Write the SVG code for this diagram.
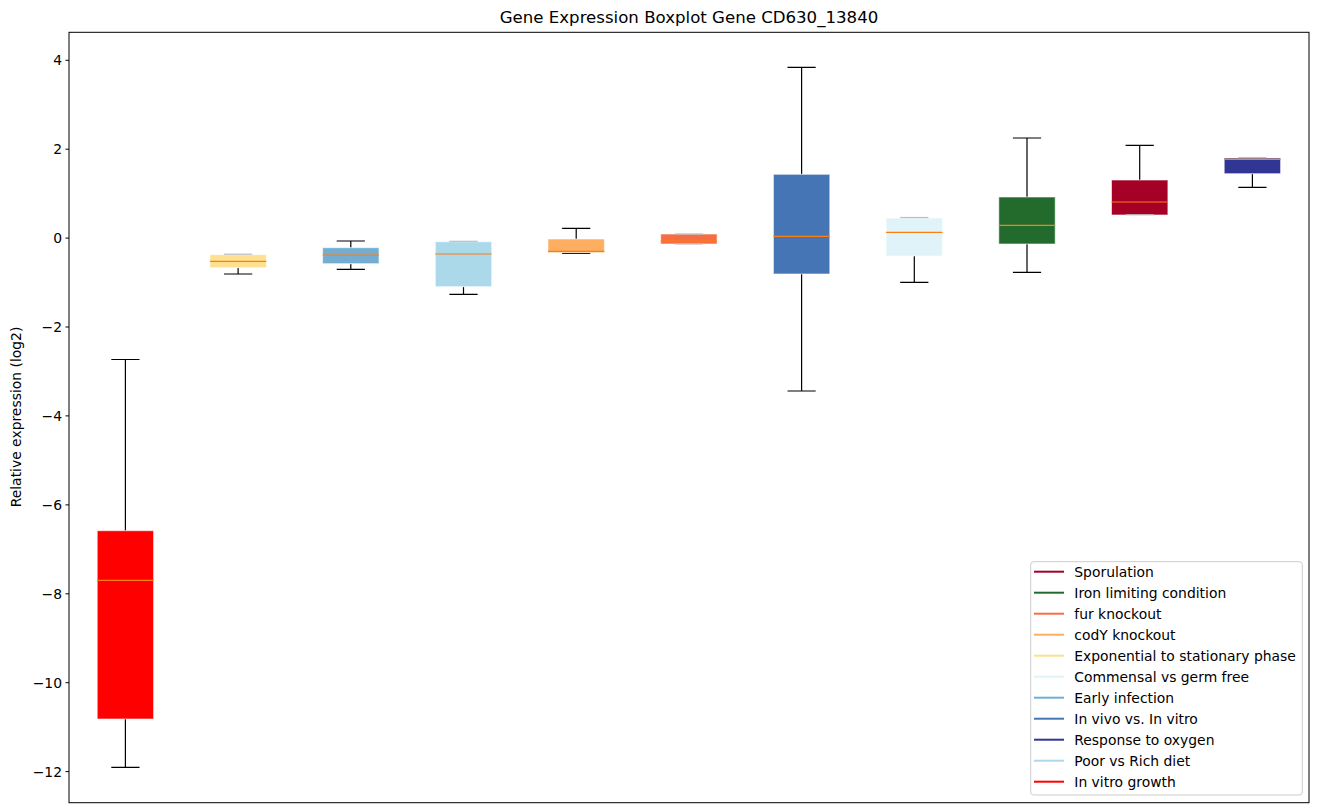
<svg xmlns="http://www.w3.org/2000/svg" width="1318" height="812" viewBox="0 0 1318 812">
<style>
text{font-family:"DejaVu Sans","Liberation Sans",sans-serif;fill:#000}
.tick{font-size:13.9px;text-anchor:end}
.leg{font-size:13.9px}
.wh{stroke:#000;stroke-width:1.2;fill:none}
.capg{stroke:#bdbdbd;stroke-width:1.2}
.med{stroke:#ff7f0e;stroke-width:1.2}
.box{stroke:#ffffff;stroke-opacity:0.6;stroke-width:1}
.ll{stroke-width:2}
</style>
<rect width="1318" height="812" fill="#fff"/>
<text x="689" y="23" font-size="16.6" text-anchor="middle">Gene Expression Boxplot Gene CD630_13840</text>
<g id="yaxis">
<g stroke="#000" stroke-width="1">
<line x1="65.5" y1="60.3" x2="69" y2="60.3"/>
<line x1="65.5" y1="149.2" x2="69" y2="149.2"/>
<line x1="65.5" y1="238.1" x2="69" y2="238.1"/>
<line x1="65.5" y1="327" x2="69" y2="327"/>
<line x1="65.5" y1="415.9" x2="69" y2="415.9"/>
<line x1="65.5" y1="504.9" x2="69" y2="504.9"/>
<line x1="65.5" y1="593.8" x2="69" y2="593.8"/>
<line x1="65.5" y1="682.7" x2="69" y2="682.7"/>
<line x1="65.5" y1="771.6" x2="69" y2="771.6"/>
</g>
<text class="tick" x="62" y="65.3">4</text>
<text class="tick" x="62" y="154.2">2</text>
<text class="tick" x="62" y="243.1">0</text>
<text class="tick" x="62" y="332">−2</text>
<text class="tick" x="62" y="420.9">−4</text>
<text class="tick" x="62" y="509.9">−6</text>
<text class="tick" x="62" y="598.8">−8</text>
<text class="tick" x="62" y="687.7">−10</text>
<text class="tick" x="62" y="776.6">−12</text>
<text x="0" y="0" font-size="13.9" text-anchor="middle" transform="translate(20.5,417) rotate(-90)">Relative expression (log2)</text>
</g>
<g id="connectors">
<path class="wh" d="M125.4,359.5V530.7M125.4,719V767.3M111.3,767.3H139.5M111.3,359.5H139.5"/>
<path class="wh" d="M238.1,267.7V274M224,274H252.2"/>
<path class="wh" d="M350.8,241V247.7M350.8,263.7V269.3M336.7,241H364.9M336.7,269.3H364.9"/>
<path class="wh" d="M463.5,286.7V294.3M449.4,294.3H477.6"/>
<path class="wh" d="M576.2,228.3V239M562.1,228.3H590.3M562.1,253.3H590.3"/>
<path class="wh" d="M801.6,67.3V174.3M801.6,274V391M787.5,67.3H815.7M787.5,391H815.7"/>
<path class="wh" d="M914.3,256V282.3M900.2,282.3H928.4"/>
<path class="wh" d="M1027,138V197M1027,244V272.3M1012.9,138H1041.1M1012.9,272.3H1041.1"/>
<path class="wh" d="M1139.7,145.3V180M1125.6,145.3H1153.8"/>
<path class="wh" d="M1252.4,173.7V187.3M1238.3,187.3H1266.5"/>
</g>
<g id="box1"><rect class="box" x="97.2" y="530.7" width="56.4" height="188.3" fill="#ff0000"/><line class="med" x1="97.2" y1="580.3" x2="153.6" y2="580.3"/></g>
<g id="box2"><rect class="box" x="209.9" y="254.7" width="56.4" height="13" fill="#fee090"/><line class="capg" x1="224" y1="254.2" x2="252.2" y2="254.2"/><line class="med" x1="209.9" y1="261.3" x2="266.3" y2="261.3"/></g>
<g id="box3"><rect class="box" x="322.6" y="247.7" width="56.4" height="16" fill="#74add1"/><line class="med" x1="322.6" y1="255" x2="379" y2="255"/></g>
<g id="box4"><rect class="box" x="435.3" y="241.7" width="56.4" height="45" fill="#abd9e9"/><line class="capg" x1="449.4" y1="241.3" x2="477.6" y2="241.3"/><line class="med" x1="435.3" y1="254" x2="491.7" y2="254"/></g>
<g id="box5"><rect class="box" x="548" y="239" width="56.4" height="13.7" fill="#fdae61"/><line class="med" x1="548" y1="251.3" x2="604.4" y2="251.3"/></g>
<g id="box6"><rect class="box" x="660.7" y="234" width="56.4" height="10" fill="#f46d43"/><line class="capg" x1="674.8" y1="234" x2="703" y2="234"/><line class="capg" x1="674.8" y1="244" x2="703" y2="244"/><line class="med" x1="660.7" y1="241" x2="717.1" y2="241"/></g>
<g id="box7"><rect class="box" x="773.4" y="174.3" width="56.4" height="99.7" fill="#4575b4"/><line class="med" x1="773.4" y1="236.3" x2="829.8" y2="236.3"/></g>
<g id="box8"><rect class="box" x="886.1" y="218" width="56.4" height="38" fill="#e0f3f8"/><line class="capg" x1="900.2" y1="217.5" x2="928.4" y2="217.5"/><line class="med" x1="886.1" y1="232.3" x2="942.5" y2="232.3"/></g>
<g id="box9"><rect class="box" x="998.8" y="197" width="56.4" height="47" fill="#236b2d"/><line class="med" x1="998.8" y1="225.3" x2="1055.2" y2="225.3"/></g>
<g id="box10"><rect class="box" x="1111.5" y="180" width="56.4" height="35" fill="#a50026"/><line class="capg" x1="1125.6" y1="214.8" x2="1153.8" y2="214.8"/><line class="med" x1="1111.5" y1="202" x2="1167.9" y2="202"/></g>
<g id="box11"><rect class="box" x="1224.2" y="158" width="56.4" height="15.7" fill="#313695"/><line class="capg" x1="1238.3" y1="157.6" x2="1266.5" y2="157.6"/><line class="med" x1="1224.2" y1="159.3" x2="1280.6" y2="159.3"/></g>
<rect id="frame" x="69" y="32.3" width="1240" height="770.4" fill="none" stroke="#000" stroke-width="1"/>
<g id="legend">
<rect x="1030.7" y="561.7" width="271.6" height="233.3" rx="3" fill="#fff" fill-opacity="0.8" stroke="#cccccc" stroke-width="1"/>
<line class="ll" x1="1034" y1="571.7" x2="1064" y2="571.7" stroke="#a50026"/><text class="leg" x="1074.3" y="576.7">Sporulation</text>
<line class="ll" x1="1034" y1="592.7" x2="1064" y2="592.7" stroke="#236b2d"/><text class="leg" x="1074.3" y="597.7">Iron limiting condition</text>
<line class="ll" x1="1034" y1="613.7" x2="1064" y2="613.7" stroke="#f46d43"/><text class="leg" x="1074.3" y="618.7">fur knockout</text>
<line class="ll" x1="1034" y1="634.7" x2="1064" y2="634.7" stroke="#fdae61"/><text class="leg" x="1074.3" y="639.7">codY knockout</text>
<line class="ll" x1="1034" y1="655.7" x2="1064" y2="655.7" stroke="#fee090"/><text class="leg" x="1074.3" y="660.7">Exponential to stationary phase</text>
<line class="ll" x1="1034" y1="676.7" x2="1064" y2="676.7" stroke="#e0f3f8"/><text class="leg" x="1074.3" y="681.7">Commensal vs germ free</text>
<line class="ll" x1="1034" y1="697.7" x2="1064" y2="697.7" stroke="#74add1"/><text class="leg" x="1074.3" y="702.7">Early infection</text>
<line class="ll" x1="1034" y1="718.7" x2="1064" y2="718.7" stroke="#4575b4"/><text class="leg" x="1074.3" y="723.7">In vivo vs. In vitro</text>
<line class="ll" x1="1034" y1="739.7" x2="1064" y2="739.7" stroke="#313695"/><text class="leg" x="1074.3" y="744.7">Response to oxygen</text>
<line class="ll" x1="1034" y1="760.7" x2="1064" y2="760.7" stroke="#abd9e9"/><text class="leg" x="1074.3" y="765.7">Poor vs Rich diet</text>
<line class="ll" x1="1034" y1="781.7" x2="1064" y2="781.7" stroke="#ff0000"/><text class="leg" x="1074.3" y="786.7">In vitro growth</text>
</g>
</svg>
